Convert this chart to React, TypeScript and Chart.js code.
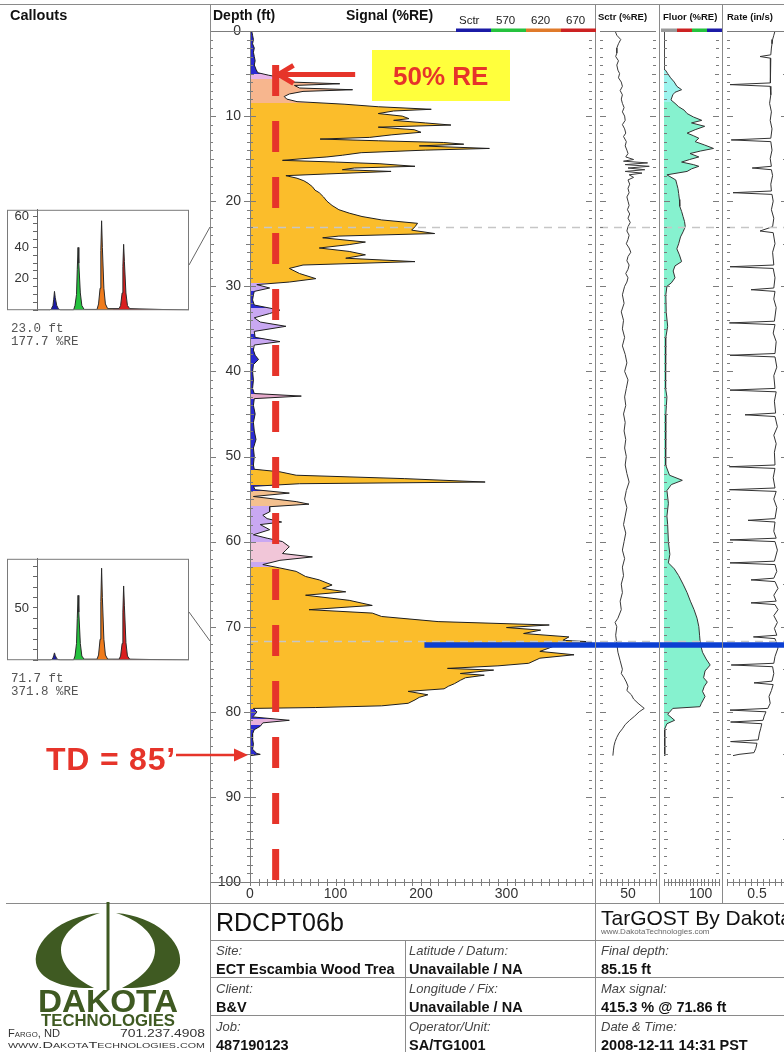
import React, { useEffect, useRef } from 'react';
import { Chart, registerables } from 'chart.js';

Chart.register(...registerables);

const FONT = '"Liberation Sans", Arial, Helvetica, sans-serif';
const MONO = '"Liberation Mono", "DejaVu Sans Mono", monospace';
const RED = '#e6342a';
const OLIVE = '#3f5a22';

// ---------------- data ----------------
// [depth ft, signal %RE]
const mainSignal: [number, number][] = [
  [0,2],[0.5,3],[1,4],[1.5,3],[2,5],[2.5,4],[3,5],[3.5,6],[4,5],[4.5,7],[4.9,9],[5.2,22],[5.5,38],[5.8,44],[6.0,48],[6.2,105],[6.4,52],[6.7,58],[6.9,120],[7.1,62],[7.4,46],[7.7,40],[8.0,43],[8.3,55],
  [8.6,110],[8.9,150],[9.2,212],[9.4,168],[9.7,150],[10.0,178],[10.3,186],[10.5,168],[10.8,205],[11.05,235],[11.3,150],[11.6,192],[11.9,200],[12.2,166],[12.5,140],[12.7,82],[12.9,150],[13.1,226],[13.3,250],[13.5,198],[13.8,280],[14.0,205],[14.3,130],[14.6,108],[14.8,90],[15.0,62],[15.2,38],[15.4,100],[15.6,152],[15.9,193],[16.1,122],[16.3,108],[16.5,165],[16.8,90],[17.0,42],
  [17.3,55],[17.6,63],[17.9,68],[18.3,73],[18.7,76],[19.0,81],[19.5,86],[20.0,90],[20.5,96],[21.0,104],[21.4,116],[21.8,131],[22.2,154],[22.6,196],[23.0,193],[23.4,189],[23.8,216],[24.1,104],[24.3,85],[24.8,135],[25.1,116],[25.5,81],[25.9,116],[26.3,135],[26.7,112],[27.1,193],[27.5,62],[27.9,46],[28.5,58],[29.1,77],[29.5,46],[29.8,8],[30.2,23],[30.6,5],
  [31.0,4],[31.6,3],[32.2,5],[32.8,35],[33.2,23],[33.7,5],[34.2,12],[34.7,42],[35.3,5],[36.0,6],[36.5,35],[36.9,5],[37.5,4],[38.1,6],[38.6,10],[39.2,4],[40,3],[41,4],[42,3],[42.6,5],[42.9,60],[43.2,5],[44,4],[45,6],[46,4],[47,5],[48,7],[49,4],[50,5],[51,4],[51.5,5],
  [51.8,35],[52.2,54],[52.6,181],[53.0,275],[53.2,58],[53.5,4],[53.9,6],[54.3,46],[54.7,4],[55.3,54],[55.6,69],[55.9,23],[56.5,23],[56.9,15],[57.3,20],[57.7,37],[58.0,12],[58.6,23],[59.2,4],[59.6,20],[60.0,38],[60.6,46],[61.0,42],[61.4,38],[61.8,73],[62.2,35],[62.7,15],
  [63.1,35],[63.5,54],[64.1,65],[64.5,81],[65.1,96],[65.5,85],[65.9,112],[66.3,65],[66.9,116],[67.5,143],[68.0,69],[68.4,143],[68.8,154],[69.4,220],[69.8,350],[70.1,300],[70.4,340],[70.8,320],[71.2,373],[71.6,366],[71.86,415],[72.1,360],[72.5,350],[72.9,339],[73.3,379],[73.7,339],[74.3,326],[74.6,290],[74.9,231],[75.1,285],[75.5,246],[75.7,274],[76.0,252],[76.3,246],[76.7,239],[77.0,232],[77.3,227],[77.6,185],[78.0,208],[78.3,198],[78.6,193],[79.0,185],[79.3,154],[79.5,77],
  [79.6,4],[80.0,8],[80.3,6],[80.6,3],[81.0,46],[81.3,15],[81.7,12],[82.1,5],[82.6,3],[83.2,3],[83.8,4],[84.4,3],[84.9,8],[85.0,12],[85.15,0]
];

// [depth ft, scatter %RE]
const sctrTrace: [number, number][] = [
  [0,27],[0.5,30],[1,37],[1.5,33],[2,30],[2.6,30],[3,28],[3.5,33],[4,30],[4.6,32],[5,35],[5.5,33],[6,38],[6.5,40],[7,36],[7.5,40],[8,38],[8.5,40],[9,43],[9.5,40],[10,44],[10.5,45],[11,40],[11.5,44],[12,46],[12.4,42],[13,47],[13.5,45],[14,48],[14.4,50],[14.8,46],[15.1,60],[15.3,42],[15.5,85],[15.7,45],[15.9,88],[16.1,50],[16.3,80],[16.5,45],[16.7,75],[16.9,52],[17.2,60],[17.5,50],
  [18,53],[18.5,50],[19,52],[19.5,48],[20,50],[20.5,52],[21,49],[21.5,53],[22,50],[22.5,54],[23,50],[23.5,48],[24,52],[24.5,50],[25,47],[25.5,52],[26,55],[26.5,50],[27,48],[27.5,52],[28,50],[28.5,46],[29,50],[29.5,48],[30,44],[31,40],[32,43],[33,38],[34,42],[35,40],[36,44],[37,40],[38,45],[39,48],[40,44],[41,50],[42,47],[43,44],[44,46],[45,42],[46,45],[47,43],[48,46],[49,44],[50,47],[51,45],[52,48],[53,52],[54,47],[55,44],[56,48],[57,45],[58,42],[59,46],[60,43],[61,40],[62,44],[63,40],[64,42],[65,38],[66,40],[67,36],[68,38],[69,32],[69.5,27],[70,30],[71,28],[72,30],[73,32],[74,36],[75,40],[75.5,38],[76,43],[76.5,47],[77,50],[77.5,48],[78,56],[78.5,60],[79,68],[79.6,79],[80,70],[80.5,62],[81,53],[81.5,45],[82,40],[82.5,34],[83,30],[83.5,27],[84,25],[84.5,24],[85.15,23]
];

// [depth ft, fluorescence %RE]
const fluorTrace: [number, number][] = [
  [0,0],[4.5,0],[4.6,4],[5,10],[5.5,18],[6,28],[6.5,35],[6.9,48],[7.2,30],[7.5,24],[8.1,19],[8.5,30],[8.9,40],[9.3,55],[9.7,63],[10.1,80],[10.5,103],[10.8,75],[11.2,111],[11.6,85],[12.0,63],[12.3,80],[12.6,95],[13.0,85],[13.4,111],[13.8,135],[14.1,100],[14.4,71],[14.8,95],[15.1,70],[15.4,48],[15.7,80],[15.9,95],[16.2,75],[16.5,63],[16.9,8],
  [17.5,32],[18,35],[18.5,38],[19.1,40],[19.8,42],[20.6,43],[21.2,48],[21.8,52],[22.4,56],[23,58],[23.6,52],[24.2,45],[25,40],[25.6,35],[26.3,42],[27.1,48],[27.6,30],[28.2,25],[29,30],[29.6,20],[30,8],[31,5],[33,6],[34.7,10],[36,5],[38,4],[40,5],[42,4],[43,8],[45,5],[48,4],[51,5],[52.2,15],[52.8,50],[53.3,20],[54,8],[55.5,12],[57,8],[58,10],[60,12],[61.5,16],[62.5,12],
  [63.2,28],[64,40],[65,52],[66,63],[67,72],[68,82],[69,90],[70,95],[71,97],[72,99],[73,105],[73.8,115],[74.5,126],[75.2,112],[76,108],[76.5,118],[77,110],[77.6,105],[78.2,112],[79,102],[79.4,98],[79.6,24],[80.3,10],[81,29],[81.4,8],[82,2],[85.15,2]
];

// [depth ft, rate in/s]
const rateTrace: [number, number][] = [
  [0,0.8],[0.5,0.78],[1,0.76],[1.5,0.75],[2,0.74],[2.8,0.73],[3.0,0.55],[3.2,0.73],[4,0.72],[5,0.73],[6.1,0.72],[6.3,0.05],[6.5,0.72],[7.5,0.73],[8.5,0.71],[9.5,0.74],[10.5,0.72],[11.5,0.75],[12.6,0.73],[12.8,0.07],[13.0,0.73],[14,0.75],[15,0.72],[15.9,0.74],[16.1,0.42],[16.3,0.74],[17,0.76],[18,0.73],[18.8,0.74],[19.0,0.1],[19.2,0.75],
  [20,0.77],[21,0.74],[22,0.78],[23,0.76],[23.5,0.55],[23.7,0.77],[25,0.8],[26,0.76],[27.5,0.78],[27.7,0.05],[27.9,0.77],[29,0.8],[30.2,0.78],[30.4,0.4],[30.6,0.8],[31.5,0.78],[32.5,0.82],[34.1,0.79],[34.3,0.04],[34.5,0.8],[35.5,0.77],[36.5,0.82],[37.9,0.8],[38.1,0.05],[38.3,0.8],[39.5,0.83],[40.5,0.78],[42.0,0.8],[42.2,0.05],[42.4,0.82],[43.5,0.79],[44.9,0.81],[45.1,0.3],[45.3,0.8],[46.5,0.84],[47.5,0.78],[48.5,0.82],[49.5,0.79],[51.0,0.8],[51.2,0.04],[51.4,0.8],
  [52.5,0.77],[53.7,0.8],[53.9,0.04],[54.1,0.82],[55,0.78],[56,0.83],[57.3,0.8],[57.5,0.35],[57.7,0.8],[58.8,0.78],[59.6,0.82],[59.8,0.05],[60.0,0.8],[61,0.84],[62.3,0.79],[62.5,0.05],[62.7,0.8],[63.5,0.83],[64.3,0.78],[64.5,0.4],[64.7,0.8],[65.5,0.85],[66.3,0.78],[67.0,0.82],[67.2,0.4],[67.4,0.8],[68,0.85],[68.7,0.78],[69.5,0.84],[70.2,0.79],[71.0,0.83],[71.2,0.44],[71.4,0.8],[72.5,0.85],[73.5,0.8],[74.3,0.78],[74.5,0.07],[74.7,0.76],
  [75.5,0.78],[76.4,0.75],[76.6,0.45],[76.8,0.77],[77.5,0.74],[78.2,0.7],[79,0.72],[79.6,0.68],[79.8,0.05],[80.0,0.65],[80.5,0.62],[81.0,0.6],[81.2,0.06],[81.4,0.58],[82,0.56],[82.5,0.54],[83.3,0.52],[83.5,0.06],[83.7,0.5],[84.3,0.48],[84.8,0.45],[85.0,0.2],[85.15,0.1]
];

// callout waveforms (time index vs %RE)
const wfTime = [0, 17,19,21,22,23,24,26,28,31, 48,50,52,53,54,55,57,59,62, 79,81,83,84,85,86,88,90,93, 108,110,112,113,114,115,117,119,122, 200];
const wfAmp23 = [0, 0,1,3,7,12,8,3,1,0, 0,3,10,26,40,30,11,3,0.5, 0.5,4,14,38,57,40,14,4,1, 1,3,11,28,42,31,11,3,1, 0];
const wfAmp72 = [0, 0,0.5,2,4.5,7,4.5,1.5,0.5,0, 0,4,16,40,62,46,16,4,1, 1,5,20,56,88,60,20,5,1, 1,4,16,46,71,52,17,4,1, 0];
const calloutDepths = [23.0, 71.7];
const calloutSignals = [177.7, 371.8];

// axis tick labels
const depthTickStep = 10;
const mainXLabels = [0, 100, 200, 300];
const sctrXLabels = [50];
const fluorXLabels = [100];
const rateXLabels = [0.5];
const headerChannels = ['Sctr', '570', '620', '670'];

// info table
const infoRows = [
  [['Site:', 'ECT Escambia Wood Trea'], ['Latitude / Datum:', 'Unavailable / NA'], ['Final depth:', '85.15 ft']],
  [['Client:', 'B&V'], ['Longitude / Fix:', 'Unavailable / NA'], ['Max signal:', '415.3 % @ 71.86 ft']],
  [['Job:', '487190123'], ['Operator/Unit:', 'SA/TG1001'], ['Date & Time:', '2008-12-11 14:31 PST']],
];

// annotation anchors (in data units)
const MAX_LINE_DEPTH = 72.15;
const MAX_LINE_FROM = 204;
const RE_LINE_VALUE = 30;
const RE_LINE_TOP = 4.0;
const ARROW_DEPTH = 5.1;
const ARROW_TAIL = 123;
const ARROW_TIP = 31;

// ---------------- styles ----------------
const mainZones: [number, number, string][] = [
  [0,5,'#2a2ad2'],[5,5.6,'#e8b4e6'],[5.6,8.5,'#f7b68e'],[8.5,29.6,'#fbbd2b'],[29.6,30.6,'#c9a8f2'],[30.6,32.5,'#2a2ad2'],
  [32.5,35.6,'#c9a8f2'],[35.6,36.2,'#2a2ad2'],[36.2,37.2,'#c9a8f2'],[37.2,42.6,'#2a2ad2'],[42.6,43.3,'#e6aacb'],[43.3,51.6,'#2a2ad2'],
  [51.6,53.4,'#fbbd2b'],[53.4,54.1,'#2a2ad2'],[54.1,55.8,'#f4c08e'],[55.8,60,'#c9a8f2'],[60,62.4,'#f1c6d8'],[62.4,63,'#c9a8f2'],
  [63,79.7,'#fbbd2b'],[79.7,80.8,'#3c34dc'],[80.8,81.6,'#e6b0da'],[81.6,100,'#2a2ad2']
];
const fluorZones: [number, number, string][] = [[0,8.4,'#9cf4ee'],[8.4,100,'#86f2cf']];
const wfZones: [number, number, string][] = [[0,38,'#1b1ba6'],[38,70,'#25c23e'],[70,100,'#ef7b1c'],[100,200,'#d91f1f']];

function vGrad(chart: any, zones: [number, number, string][]) {
  const { ctx, chartArea, scales } = chart;
  if (!chartArea || !scales.y) return zones[0][2];
  const ys = scales.y;
  const g = ctx.createLinearGradient(0, ys.getPixelForValue(ys.min), 0, ys.getPixelForValue(ys.max));
  const span = ys.max - ys.min;
  for (const [a, b, c] of zones) {
    g.addColorStop(Math.max(0, Math.min(1, (a - ys.min) / span)), c);
    g.addColorStop(Math.max(0, Math.min(1, (b - ys.min) / span)), c);
  }
  return g;
}

function hGrad(chart: any, zones: [number, number, string][]) {
  const { ctx, chartArea, scales } = chart;
  if (!chartArea || !scales.x) return zones[0][2];
  const xs = scales.x;
  const g = ctx.createLinearGradient(xs.getPixelForValue(xs.min), 0, xs.getPixelForValue(xs.max), 0);
  const span = xs.max - xs.min;
  for (const [a, b, c] of zones) {
    g.addColorStop(Math.max(0, Math.min(1, (a - xs.min) / span)), c);
    g.addColorStop(Math.max(0, Math.min(1, (b - xs.min) / span)), c);
  }
  return g;
}

type DecorOpts = {
  xStep: number;
  leftBorder?: boolean;
  outerLeftTicks?: boolean;
  canvasLeftTicks?: boolean;
  frameFromZero?: boolean;
  blueFrom?: number | null;
  red?: boolean;
};

function decor(o: DecorOpts) {
  return {
    id: 'decor',
    afterDatasetsDraw(chart: any) {
      const { ctx, chartArea: a } = chart;
      const ys = chart.scales.y, xs = chart.scales.x;
      const seg = (x1: number, y1: number, x2: number, y2: number) => {
        ctx.beginPath(); ctx.moveTo(x1, y1); ctx.lineTo(x2, y2); ctx.stroke();
      };
      ctx.save();
      ctx.strokeStyle = '#c6c6c6'; ctx.lineWidth = 1.3; ctx.setLineDash([8, 6]);
      for (const d of calloutDepths) {
        const y = Math.round(ys.getPixelForValue(d)) + 0.5;
        seg(a.left, y, a.right, y);
      }
      ctx.setLineDash([]);
      ctx.strokeStyle = '#7c7c7c'; ctx.lineWidth = 1;
      const x0 = o.frameFromZero ? 0 : a.left;
      seg(x0, a.top + 0.5, a.right, a.top + 0.5);
      seg(x0, a.bottom + 0.5, a.right, a.bottom + 0.5);
      if (o.leftBorder) seg(a.left + 0.5, a.top, a.left + 0.5, a.bottom);
      for (let d = ys.min; d <= ys.max; d += 1) {
        const y = Math.round(ys.getPixelForValue(d)) + 0.5;
        const L = d % depthTickStep === 0 ? 6 : d % 5 === 0 ? 4 : 3;
        seg(a.left, y, a.left + L, y);
        seg(a.right - L, y, a.right, y);
        if (o.outerLeftTicks) seg(a.left - L, y, a.left, y);
        if (o.canvasLeftTicks) seg(0, y, L, y);
      }
      const n = Math.round((xs.max - xs.min) / o.xStep);
      for (let i = 0; i <= n; i++) {
        const x = Math.round(xs.getPixelForValue(xs.min + i * o.xStep)) + 0.5;
        seg(x, a.bottom - 3, x, a.bottom + 4);
      }
      ctx.restore();
    },
    afterDraw(chart: any) {
      const { ctx, chartArea: a } = chart;
      const ys = chart.scales.y, xs = chart.scales.x;
      ctx.save();
      if (o.red) {
        const x = xs.getPixelForValue(RE_LINE_VALUE);
        ctx.strokeStyle = RED; ctx.lineWidth = 7; ctx.lineCap = 'butt';
        ctx.setLineDash([31, 25]);
        ctx.beginPath(); ctx.moveTo(x, ys.getPixelForValue(RE_LINE_TOP)); ctx.lineTo(x, a.bottom); ctx.stroke();
        ctx.setLineDash([]);
        const ay = ys.getPixelForValue(ARROW_DEPTH);
        const tip = xs.getPixelForValue(ARROW_TIP);
        const tail = xs.getPixelForValue(ARROW_TAIL);
        ctx.lineWidth = 5;
        ctx.beginPath(); ctx.moveTo(tip + 6, ay); ctx.lineTo(tail, ay); ctx.stroke();
        ctx.lineJoin = 'miter';
        ctx.beginPath(); ctx.moveTo(tip + 17, ay - 9); ctx.lineTo(tip + 2, ay); ctx.lineTo(tip + 17, ay + 9); ctx.stroke();
      }
      if (o.blueFrom !== undefined) {
        const xStart = o.blueFrom === null ? 0 : xs.getPixelForValue(o.blueFrom);
        const y = ys.getPixelForValue(MAX_LINE_DEPTH);
        ctx.fillStyle = '#0c3fd2';
        ctx.fillRect(xStart, y - 2.75, chart.width - xStart, 5.5);
      }
      ctx.restore();
    },
  };
}

function calloutBox() {
  return {
    id: 'cbox',
    afterDraw(chart: any) {
      const { ctx, chartArea: a } = chart;
      ctx.save();
      ctx.strokeStyle = '#7a7a7a'; ctx.lineWidth = 1;
      ctx.strokeRect(0.5, a.top + 0.5, chart.width - 1, a.bottom - a.top - 1);
      ctx.restore();
    },
  };
}

const tickFont = { family: FONT, size: 14 };

function logChart(canvas: HTMLCanvasElement, trace: [number, number][], xMax: number, labelStep: number,
  labels: number[], ds: any, showDepth: boolean, d: DecorOpts) {
  const yScale: any = {
    type: 'linear', min: 0, max: 100, reverse: true, position: 'left', display: showDepth,
    grid: { display: false, drawTicks: false }, border: { display: false },
    ticks: { stepSize: depthTickStep, padding: 9, color: '#333', font: tickFont },
  };
  if (showDepth) yScale.afterFit = (s: any) => { s.width = 40; };
  return new Chart(canvas, {
    type: 'line',
    data: { datasets: [{ data: trace.map(([dep, v]) => ({ x: v, y: dep })), pointRadius: 0, tension: 0, ...ds }] },
    options: {
      indexAxis: 'y',
      animation: false,
      responsive: false,
      events: [],
      layout: { padding: { top: 31, left: 0, right: 0, bottom: 0 } },
      plugins: { legend: { display: false }, tooltip: { enabled: false } },
      scales: {
        x: {
          type: 'linear', min: 0, max: xMax, position: 'bottom',
          grid: { display: false, drawTicks: false }, border: { display: false },
          ticks: {
            stepSize: labelStep, autoSkip: false, maxRotation: 0, padding: 4, color: '#333', font: tickFont,
            callback: (v: any) => (labels.includes(Number(v)) ? String(v) : ''),
          },
          afterFit: (s: any) => { s.height = 21; },
        },
        y: yScale,
      },
    } as any,
    plugins: [decor(d)],
  } as any);
}

function calloutChart(canvas: HTMLCanvasElement, amps: number[], yMax: number, labelEvery: number, minor: number) {
  return new Chart(canvas, {
    type: 'line',
    data: {
      datasets: [{
        data: wfTime.map((t, i) => ({ x: t, y: amps[i] })),
        borderColor: '#2a2a2a', borderWidth: 1, pointRadius: 0, tension: 0,
        fill: 'origin', backgroundColor: (c: any) => hGrad(c.chart, wfZones),
      }],
    },
    options: {
      animation: false, responsive: false, events: [],
      layout: { padding: { top: 7, left: 0, right: 0, bottom: 0 } },
      plugins: { legend: { display: false }, tooltip: { enabled: false } },
      scales: {
        x: { type: 'linear', min: 0, max: 200, display: false },
        y: {
          type: 'linear', min: 0, max: yMax,
          ticks: {
            stepSize: minor, includeBounds: false, autoSkip: false, padding: 4, color: '#333', font: { family: FONT, size: 13 },
            callback: (v: any) => (v > 0 && v % labelEvery === 0 ? String(v) : ''),
          },
          grid: { drawOnChartArea: false, drawTicks: true, tickLength: 4, color: '#666' },
          border: { display: true, color: '#666' },
          afterFit: (s: any) => { s.width = 30; },
        },
      },
    } as any,
    plugins: [calloutBox()],
  } as any);
}

function Txt(p: { x: number; y: number; s: number; w?: any; c?: string; i?: boolean; f?: string; ls?: number; children: any }) {
  return (
    <div style={{
      position: 'absolute', left: p.x, top: p.y, fontSize: p.s, fontWeight: p.w || 'normal',
      color: p.c || '#111', fontStyle: p.i ? 'italic' : 'normal', whiteSpace: 'nowrap', lineHeight: 1,
      fontFamily: p.f || FONT, letterSpacing: p.ls || 0,
    }}>{p.children}</div>
  );
}

export default function App() {
  const mainRef = useRef<HTMLCanvasElement>(null);
  const sctrRef = useRef<HTMLCanvasElement>(null);
  const fluorRef = useRef<HTMLCanvasElement>(null);
  const rateRef = useRef<HTMLCanvasElement>(null);
  const c1Ref = useRef<HTMLCanvasElement>(null);
  const c2Ref = useRef<HTMLCanvasElement>(null);

  useEffect(() => {
    const charts: Chart[] = [];
    charts.push(logChart(mainRef.current!, mainSignal, 400, 100, mainXLabels, {
      borderColor: '#1e1e1e', borderWidth: 1, fill: 'origin',
      backgroundColor: (c: any) => vGrad(c.chart, mainZones),
    }, true, { xStep: 10, leftBorder: true, outerLeftTicks: true, canvasLeftTicks: true, frameFromZero: true, blueFrom: MAX_LINE_FROM, red: true }));
    charts.push(logChart(sctrRef.current!, sctrTrace, 100, 50, sctrXLabels, {
      borderColor: '#3a3a3a', borderWidth: 1, fill: false,
    }, false, { xStep: 10, blueFrom: null }));
    charts.push(logChart(fluorRef.current!, fluorTrace, 150, 50, fluorXLabels, {
      borderColor: '#333', borderWidth: 1, fill: 'origin',
      backgroundColor: (c: any) => vGrad(c.chart, fluorZones),
    }, false, { xStep: 10, blueFrom: null }));
    charts.push(logChart(rateRef.current!, rateTrace, 1, 0.5, rateXLabels, {
      borderColor: '#333', borderWidth: 1, fill: false,
    }, false, { xStep: 0.1, blueFrom: null }));
    charts.push(calloutChart(c1Ref.current!, wfAmp23, 64, 20, 5));
    charts.push(calloutChart(c2Ref.current!, wfAmp72, 97, 50, 10));
    return () => charts.forEach((c) => c.destroy());
  }, []);

  const cv = (left: number, top: number): React.CSSProperties => ({ position: 'absolute', left, top, display: 'block' });
  const colX = [216, 409, 601];
  const rowY = [944, 982, 1020];

  return (
    <div style={{ position: 'absolute', left: 0, top: 0, width: 784, height: 1052, overflow: 'hidden', background: '#fff', fontFamily: FONT }}>
      <canvas ref={mainRef} width={386} height={903} style={cv(210, 0)} />
      <canvas ref={sctrRef} width={64} height={903} style={cv(596, 0)} />
      <canvas ref={fluorRef} width={63} height={903} style={cv(660, 0)} />
      <canvas ref={rateRef} width={68} height={903} style={cv(723, 0)} />
      <canvas ref={c1Ref} width={182} height={124} style={cv(7, 198)} />
      <canvas ref={c2Ref} width={182} height={125} style={cv(7, 547)} />

      <svg width={784} height={1052} style={{ position: 'absolute', left: 0, top: 0 }}>
        <g stroke="#8a8a8a" strokeWidth={1} fill="none">
          <line x1={0} y1={4.5} x2={784} y2={4.5} />
          <line x1={210.5} y1={4} x2={210.5} y2={1052} />
          <line x1={595.5} y1={4} x2={595.5} y2={1052} />
          <line x1={659.5} y1={4} x2={659.5} y2={903} />
          <line x1={722.5} y1={4} x2={722.5} y2={903} />
          <line x1={6} y1={903.5} x2={784} y2={903.5} />
          <line x1={210} y1={940.5} x2={784} y2={940.5} />
          <line x1={210} y1={977.5} x2={784} y2={977.5} />
          <line x1={210} y1={1015.5} x2={784} y2={1015.5} />
          <line x1={405.5} y1={940} x2={405.5} y2={1052} />
        </g>
        <rect x={456} y={28.5} width={35} height={3.5} fill="#1b1ba6" />
        <rect x={491} y={28.5} width={35} height={3.5} fill="#25c23e" />
        <rect x={526} y={28.5} width={35} height={3.5} fill="#e07a2a" />
        <rect x={561} y={28.5} width={35} height={3.5} fill="#cc2222" />
        <rect x={661} y={28.5} width={16} height={3.5} fill="#9a9a9a" />
        <rect x={677} y={28.5} width={15} height={3.5} fill="#cc2222" />
        <rect x={692} y={28.5} width={15} height={3.5} fill="#25c23e" />
        <rect x={707} y={28.5} width={15} height={3.5} fill="#1b1ba6" />
        <line x1={189} y1={265} x2={210} y2={227} stroke="#666" strokeWidth={1} />
        <line x1={189} y1={612} x2={210} y2={641} stroke="#666" strokeWidth={1} />
        <rect x={372} y={50} width={138} height={51} fill="#ffff3c" />
        <line x1={176} y1={755} x2={236} y2={755} stroke={RED} strokeWidth={2.5} />
        <polygon points="248,755 234,748.5 234,761.5" fill={RED} />
        <path d="M 100 913 C 60 916, 33 942, 36 963 C 39 980, 64 989, 94 988 C 76 979, 61 966, 61 950 C 61 935, 75 921, 100 913 Z" fill={OLIVE} />
        <path d="M 116 913 C 156 916, 183 942, 180 963 C 177 980, 152 989, 122 988 C 140 979, 155 966, 155 950 C 155 935, 141 921, 116 913 Z" fill={OLIVE} />
        <rect x={106.5} y={902} width={3} height={88} fill={OLIVE} />
        <text x={108} y={1012} textAnchor="middle" fontFamily={FONT} fontWeight="bold" fontSize={31} fill={OLIVE} textLength={140} lengthAdjust="spacingAndGlyphs">DAKOTA</text>
        <text x={108} y={1026} textAnchor="middle" fontFamily={FONT} fontWeight="bold" fontSize={17} fill={OLIVE} textLength={134} lengthAdjust="spacingAndGlyphs">TECHNOLOGIES</text>
        <text x={8} y={1037} fontFamily={FONT} fontSize={10} fill="#333" style={{ fontVariant: 'small-caps' }} textLength={52} lengthAdjust="spacingAndGlyphs">Fargo, ND</text>
        <text x={120} y={1037} fontFamily={FONT} fontSize={10} fill="#333" textLength={85} lengthAdjust="spacingAndGlyphs">701.237.4908</text>
        <text x={8} y={1048} fontFamily={FONT} fontSize={9.5} fill="#333" style={{ fontVariant: 'small-caps' }} textLength={197} lengthAdjust="spacingAndGlyphs">www.DakotaTechnologies.com</text>
      </svg>

      <Txt x={10} y={8} s={14.5} w="bold">Callouts</Txt>
      <Txt x={213} y={8} s={14} w="bold">Depth (ft)</Txt>
      <Txt x={346} y={8} s={14} w="bold">Signal (%RE)</Txt>
      {headerChannels.map((h, i) => (
        <Txt key={h} x={[459, 496, 531, 566][i]} y={15} s={11.5} c="#222">{h}</Txt>
      ))}
      <Txt x={598} y={12} s={9.5} w="bold">Sctr (%RE)</Txt>
      <Txt x={663} y={12} s={9.5} w="bold">Fluor (%RE)</Txt>
      <Txt x={727} y={12} s={9.5} w="bold">Rate (in/s)</Txt>

      {calloutDepths.map((d, i) => (
        <div key={d} style={{ position: 'absolute', left: 11, top: i === 0 ? 323 : 673, fontFamily: MONO, fontSize: 12.5, lineHeight: '13px', color: '#555', whiteSpace: 'pre' }}>
          {d.toFixed(1) + ' ft\n' + calloutSignals[i].toFixed(1) + ' %RE'}
        </div>
      ))}

      <Txt x={393} y={63} s={26} w="bold" c={RED}>50% RE</Txt>
      <Txt x={46} y={743} s={32} w="bold" c={RED} ls={0.8}>TD = 85’</Txt>

      <Txt x={216} y={910} s={25}>RDCPT06b</Txt>
      <Txt x={601} y={907} s={21}>TarGOST By Dakota</Txt>
      <Txt x={601} y={928} s={8} c="#666">www.DakotaTechnologies.com</Txt>
      {infoRows.map((row, r) => row.map(([lab, val], c) => (
        <React.Fragment key={r + '-' + c}>
          <Txt x={colX[c]} y={rowY[r]} s={13} i c="#444">{lab}</Txt>
          <Txt x={colX[c]} y={rowY[r] + 18} s={14.5} w="bold">{val}</Txt>
        </React.Fragment>
      )))}
    </div>
  );
}
